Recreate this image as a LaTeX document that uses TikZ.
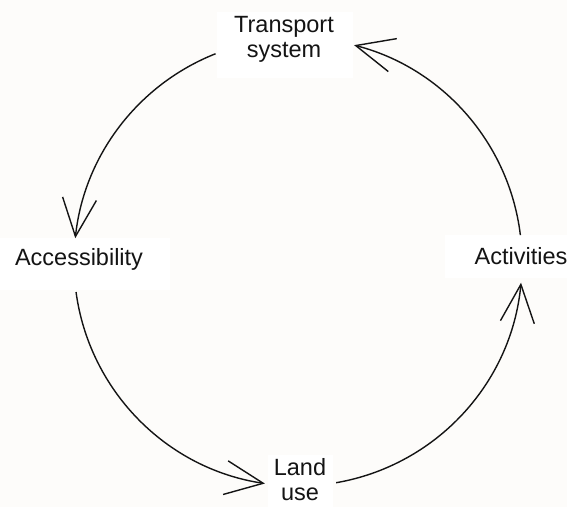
\documentclass[tikz,border=0pt]{standalone}
\usepackage{fontspec}
\setmainfont{Liberation Sans}
\usetikzlibrary{arrows.meta,calc}
\definecolor{bgc}{RGB}{253,252,250}
\definecolor{ink}{RGB}{20,20,20}
\begin{document}
\begin{tikzpicture}[x=1pt,y=1pt,
  lbl/.style={align=center,inner sep=0pt,text=ink,
    font=\fontsize{23.5}{25}\selectfont},
  box/.style={fill=white},
  arr/.style={draw=ink,line width=1.4pt,-{Straight Barb[length=38pt,width=34pt,line width=1.4pt]}}]
\fill[bgc] (0,0) rectangle (567,507);
\useasboundingbox (0,0) rectangle (567,507);
\fill[box] (217,429) rectangle (353,495);
\fill[box] (0,217) rectangle (170,269);
\fill[box] (268,0) rectangle (333,52);
\fill[box] (445,229) rectangle (567,272);
\node[lbl] (ts) at (284,468) {Transport\\system};
\node[lbl] (acc) at (79,247.5) {Accessibility};
\node[lbl] (lu) at (300,27) {Land\\use};
\node[lbl] (act) at (521,250.5) {Activities};
\coordinate (c) at (298,245);
\coordinate (a1) at ($(c)+(111.6:224)$);
\coordinate (a2) at ($(c)+(187.7:224)$);
\coordinate (a3) at ($(c)+(279.8:224)$);
\coordinate (a4) at ($(c)+(6.9:224)$);
\draw[arr] (a1) arc[start angle=111.6,end angle=173.9,radius=224];
\draw[arr] (a2) arc[start angle=187.7,end angle=261.5,radius=224];
\draw[arr] (a3) arc[start angle=279.8,end angle=354.7,radius=224];
\draw[arr] (a4) arc[start angle=6.9,end angle=75.5,radius=224];
\end{tikzpicture}
\end{document}
